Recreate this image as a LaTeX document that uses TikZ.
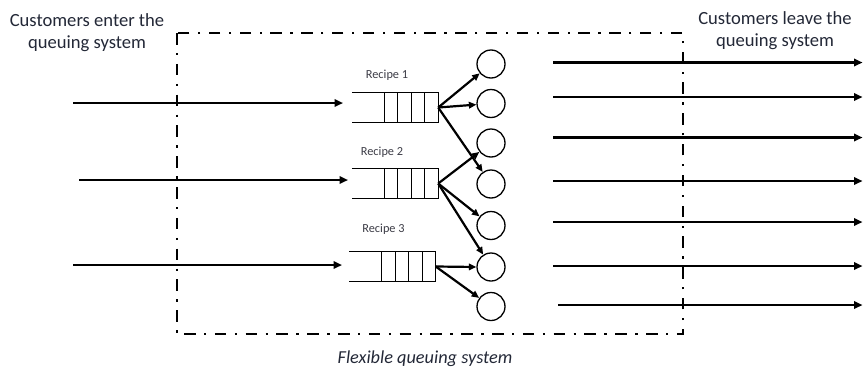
\documentclass[tikz,border=0pt]{standalone}
\usepackage{fontspec}
\setmainfont{Carlito}
\usetikzlibrary{arrows.meta,calc}
\definecolor{txt}{RGB}{35,40,55}
\definecolor{rtxt}{RGB}{60,60,70}
\tikzset{
  arr/.style={line width=2.2pt,-{Triangle[length=8.5pt,width=7.5pt]}},
  sarr/.style={line width=2.2pt,-{Triangle[length=7.5pt,width=6.5pt]}},
  server/.style={circle,draw,line width=1.3pt,minimum size=28pt,inner sep=0pt},
  queuebox/.style={draw=none,minimum width=86pt,minimum height=29pt,inner sep=0pt},
  qline/.style={line width=1.3pt},
  frame/.style={line width=2.2pt,dash pattern=on 11.5pt off 8.5pt on 2.3pt off 8.5pt},
  bigtext/.style={font=\fontsize{18.6}{22}\selectfont,text=txt,align=center,inner sep=0pt},
  rlabel/.style={font=\fontsize{12.3}{14}\selectfont,text=rtxt,inner sep=0pt},
}
\begin{document}
\begin{tikzpicture}[x=1pt,y=-1pt]
\useasboundingbox (0,0) rectangle (863,370);
% frame
\draw[frame] (177,33) rectangle (683,334);
% texts
\node[bigtext] (tin) at (87,33) {Customers enter the\\queuing system};
\node[bigtext] (tout) at (775,31) {Customers leave the\\queuing system};
\node[bigtext,font=\fontsize{18.3}{21}\selectfont\itshape] (tflex) at (425,359) {Flexible queuing system};
\node[rlabel] (r1) at (387,75) {Recipe 1};
\node[rlabel] (r2) at (382,152) {Recipe 2};
\node[rlabel] (r3) at (383.5,229) {Recipe 3};
% queues
\node[queuebox] (q1) at (395,107.5) {};
\node[queuebox] (q2) at (395,183.5) {};
\node[queuebox] (q3) at (392.5,266.5) {};
\foreach \q in {q1,q2,q3}{
  \draw[qline] (\q.north west) -- (\q.north east) -- (\q.south east) -- (\q.south west);
  \foreach \k in {1,2,3,4}{
    \draw[qline] ($(\q.north east)+(-13.5*\k,0)$) -- ($(\q.south east)+(-13.5*\k,0)$);
  }
}
% servers
\foreach \i/\y in {1/64,2/103.5,3/143,4/184,5/225.5,6/267,7/306.5}{
  \node[server] (s\i) at (491,\y) {};
}
% queue to server arrows
\draw[sarr] (q1.east) -- (s1);
\draw[sarr] (q1.east) -- (s2);
\draw[sarr] (q1.east) -- (s4);
\draw[sarr] (q2.east) -- (s3);
\draw[sarr] (q2.east) -- (s5);
\draw[sarr] (q2.east) -- (s6);
\draw[sarr] (q3.east) -- (s6.west);
\draw[sarr] (q3.east) -- (s7);
% input arrows
\coordinate (i1s) at (73,103);  \coordinate (i1e) at (343,103);
\coordinate (i2s) at (79,180);  \coordinate (i2e) at (348,180);
\coordinate (i3s) at (73,265);  \coordinate (i3e) at (342,265);
\foreach \i in {1,2,3}{ \draw[arr] (i\i s) -- (i\i e); }
% output arrows
\foreach \i/\y/\xs in {1/62.5/553,2/97/553,3/137.5/553,4/181/553,5/222/553,6/266/553,7/305/558}{
  \coordinate (o\i s) at (\xs,\y);
  \coordinate (o\i e) at (862.5,\y);
  \draw[arr] (o\i s) -- (o\i e);
}
\end{tikzpicture}
\end{document}
